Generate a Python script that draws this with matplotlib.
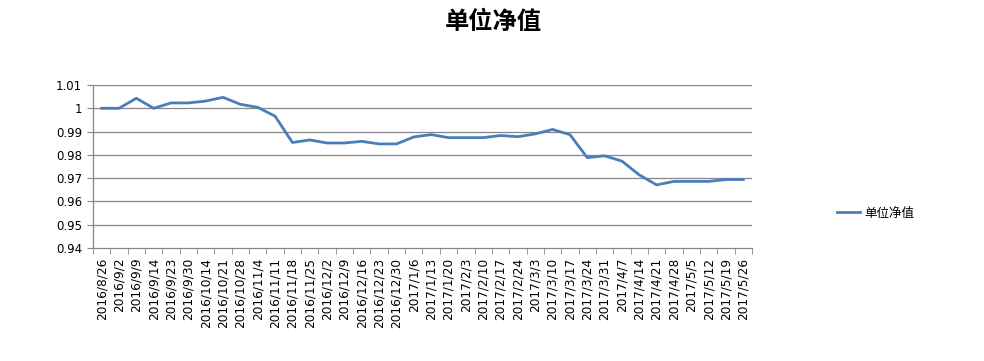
import matplotlib
matplotlib.use("Agg")
import matplotlib.pyplot as plt
import numpy as np

plt.rcParams['font.family'] = ['DejaVu Sans']

dates = ["2016/8/26", "2016/9/2", "2016/9/9", "2016/9/14", "2016/9/23", "2016/9/30",
         "2016/10/14", "2016/10/21", "2016/10/28", "2016/11/4", "2016/11/11", "2016/11/18",
         "2016/11/25", "2016/12/2", "2016/12/9", "2016/12/16", "2016/12/23", "2016/12/30",
         "2017/1/6", "2017/1/13", "2017/1/20", "2017/2/3", "2017/2/10", "2017/2/17",
         "2017/2/24", "2017/3/3", "2017/3/10", "2017/3/17", "2017/3/24", "2017/3/31",
         "2017/4/7", "2017/4/14", "2017/4/21", "2017/4/28", "2017/5/5", "2017/5/12",
         "2017/5/19", "2017/5/26"]
nav = [1.000, 1.000, 1.0043, 1.000, 1.0023, 1.0023, 1.0031, 1.0047, 1.0017, 1.0004,
       0.9966, 0.9853, 0.9864, 0.9851, 0.9851, 0.9858, 0.9847, 0.9847, 0.9877, 0.9887,
       0.9874, 0.9874, 0.9874, 0.9883, 0.9878, 0.9890, 0.9909, 0.9887, 0.9788, 0.9796,
       0.9773, 0.9714, 0.9671, 0.9686, 0.9686, 0.9686, 0.9694, 0.9694]
yticks = [0.94, 0.95, 0.96, 0.97, 0.98, 0.99, 1.00, 1.01]
ytick_labels = ["0.94", "0.95", "0.96", "0.97", "0.98", "0.99", "1", "1.01"]
series_name = "单位净值"

W, H = 984, 361
fig = plt.figure(figsize=(W / 100, H / 100), dpi=100)
ax = fig.add_axes([93 / W, 1 - 248 / H, (752 - 93) / W, (248 - 85) / H])

x = np.arange(len(dates))
ax.plot(x, nav, color="#4A7EBB", linewidth=2.0, label=series_name, solid_joinstyle="round")

ax.set_xlim(-0.5, len(dates) - 0.5)
ax.set_ylim(0.94, 1.01)
ax.set_yticks(yticks)
ax.set_yticklabels(ytick_labels, fontsize=8.5)
for y in yticks[1:]:
    ax.axhline(y, color="#868686", linewidth=0.9, zorder=0)

ax.set_xticks(x)
ax.set_xticklabels(dates, rotation=90, fontsize=8.7)
ax.tick_params(axis="x", length=0, pad=7)
ax.set_xticks(np.arange(len(dates) + 1) - 0.5, minor=True)
ax.tick_params(axis="x", which="minor", length=4, color="#868686", direction="out")
ax.tick_params(axis="y", length=4, color="#868686", direction="out", pad=4)

for s in ["top", "right"]:
    ax.spines[s].set_visible(False)
for s in ["left", "bottom"]:
    ax.spines[s].set_color("#868686")
    ax.spines[s].set_linewidth(0.9)

fig.text(493 / W, 1 - 22 / H, series_name, ha="center", va="center", fontsize=17.5,
         family=["Noto Sans CJK SC", "DejaVu Sans"], fontweight="bold")

leg = fig.legend(loc="center left", bbox_to_anchor=(826 / W, 1 - 213 / H), frameon=False,
                 prop={"family": ["Noto Sans CJK SC", "DejaVu Sans"], "size": 9},
                 handlelength=1.8, handletextpad=0.35)

fig.savefig("out.png", dpi=100, facecolor="white")
